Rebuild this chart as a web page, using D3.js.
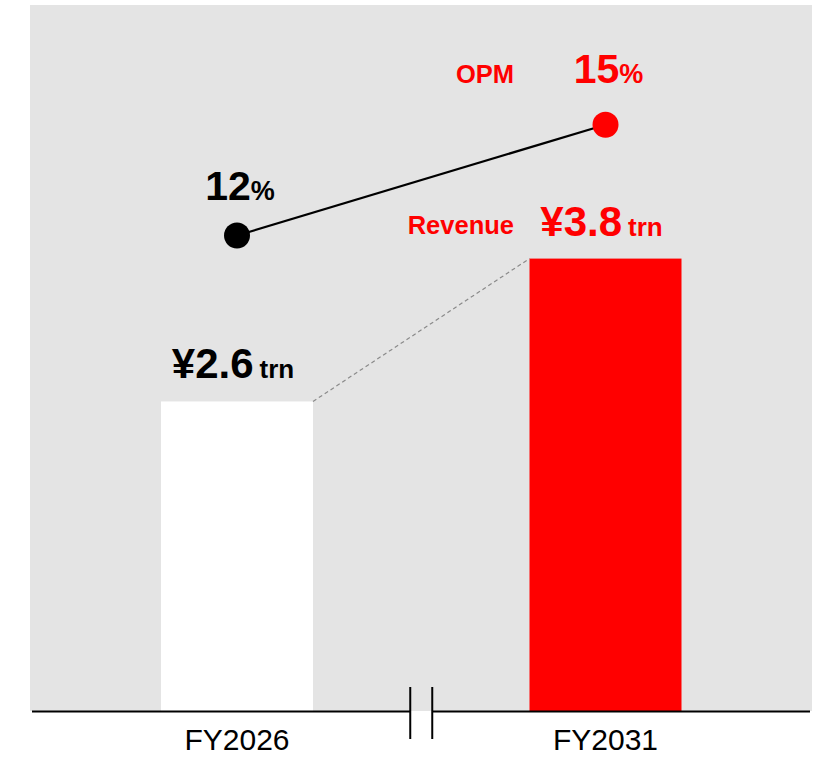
<!DOCTYPE html>
<html>
<head>
<meta charset="utf-8">
<script src="https://cdn.jsdelivr.net/npm/d3@7"></script>
<style>
  body { margin: 0; background: #fff; }
  text { font-family: "Liberation Sans", Arial, sans-serif; }
</style>
</head>
<body>
<div id="chart"></div>
<script>
// data
const years = ['FY2026', 'FY2031'];
const revenue = [2.6, 3.8];
const revenueLabels = ['¥2.6', '¥3.8'];
const opm = [12, 15];
const barColors = ['#ffffff', '#ff0000'];
const opmColors = ['#000000', '#ff0000'];

const width = 818, height = 757;
const baseY = 711;

const svg = d3.select('#chart').append('svg')
  .attr('width', width)
  .attr('height', height);

// grey panel
svg.append('rect')
  .attr('x', 30).attr('y', 5)
  .attr('width', 782).attr('height', baseY - 5)
  .attr('fill', '#e4e4e4');

const x = d3.scalePoint().domain(years).range([237, 605.5]);
const y = d3.scaleLinear().domain([0, 5.93]).range([baseY, 5]);
const yOpm = d3.scaleLinear().domain([12, 15]).range([235.5, 124.7]);
const barW = 152;

// bars
svg.selectAll('rect.bar')
  .data(revenue)
  .enter().append('rect')
  .attr('class', 'bar')
  .attr('x', (d, i) => x(years[i]) - barW / 2)
  .attr('y', d => y(d))
  .attr('width', barW)
  .attr('height', d => baseY - y(d))
  .attr('fill', (d, i) => barColors[i]);

// dashed connector between bar tops
svg.append('line')
  .attr('x1', x(years[0]) + barW / 2).attr('y1', y(revenue[0]))
  .attr('x2', x(years[1]) - barW / 2).attr('y2', y(revenue[1]))
  .attr('stroke', '#8a8a8a')
  .attr('stroke-width', 1.2)
  .attr('stroke-dasharray', '4,3');

// revenue labels
const revText = svg.selectAll('text.rev')
  .data(revenue)
  .enter().append('text')
  .attr('class', 'rev')
  .attr('x', (d, i) => x(years[i]) - 4)
  .attr('y', d => y(d) - 23)
  .attr('text-anchor', 'middle')
  .attr('font-weight', 'bold')
  .attr('fill', (d, i) => i === 0 ? '#000' : '#ff0000');
revText.append('tspan').attr('font-size', 42).text((d, i) => revenueLabels[i]);
revText.append('tspan').attr('font-size', 26).attr('dx', 6).text('trn');

// OPM line
const line = d3.line()
  .x((d, i) => x(years[i]))
  .y(d => yOpm(d));
svg.append('path')
  .datum(opm)
  .attr('d', line)
  .attr('fill', 'none')
  .attr('stroke', '#000')
  .attr('stroke-width', 2.2);

svg.selectAll('circle.opm')
  .data(opm)
  .enter().append('circle')
  .attr('class', 'opm')
  .attr('cx', (d, i) => x(years[i]))
  .attr('cy', d => yOpm(d))
  .attr('r', 13)
  .attr('fill', (d, i) => opmColors[i]);

const opmText = svg.selectAll('text.opm')
  .data(opm)
  .enter().append('text')
  .attr('class', 'opm')
  .attr('x', (d, i) => x(years[i]) + 3)
  .attr('y', (d, i) => yOpm(d) - (i === 0 ? 36 : 42))
  .attr('text-anchor', 'middle')
  .attr('font-weight', 'bold')
  .attr('fill', (d, i) => opmColors[i]);
opmText.append('tspan').attr('font-size', 41).text(d => d);
opmText.append('tspan').attr('font-size', 27).text('%');

// series names
svg.append('text')
  .attr('x', 514).attr('y', 83)
  .attr('text-anchor', 'end')
  .attr('font-size', 25.5).attr('font-weight', 'bold')
  .attr('fill', '#ff0000')
  .text('OPM');
svg.append('text')
  .attr('x', 514).attr('y', 234)
  .attr('text-anchor', 'end')
  .attr('font-size', 25.5).attr('font-weight', 'bold')
  .attr('fill', '#ff0000')
  .text('Revenue');

// baseline with break
const breakX = (x(years[0]) + x(years[1])) / 2;
svg.append('line')
  .attr('x1', 32).attr('x2', breakX - 11)
  .attr('y1', baseY + 0.5).attr('y2', baseY + 0.5)
  .attr('stroke', '#000').attr('stroke-width', 2);
svg.append('line')
  .attr('x1', breakX + 11).attr('x2', 810)
  .attr('y1', baseY + 0.5).attr('y2', baseY + 0.5)
  .attr('stroke', '#000').attr('stroke-width', 2);
[-11, 11].forEach(dx => {
  svg.append('line')
    .attr('x1', breakX + dx).attr('x2', breakX + dx)
    .attr('y1', 687).attr('y2', 739)
    .attr('stroke', '#000').attr('stroke-width', 2);
});

// category labels
svg.selectAll('text.cat')
  .data(years)
  .enter().append('text')
  .attr('class', 'cat')
  .attr('x', d => x(d))
  .attr('y', 750)
  .attr('text-anchor', 'middle')
  .attr('font-size', 30)
  .attr('fill', '#000')
  .text(d => d);
</script>
</body>
</html>
